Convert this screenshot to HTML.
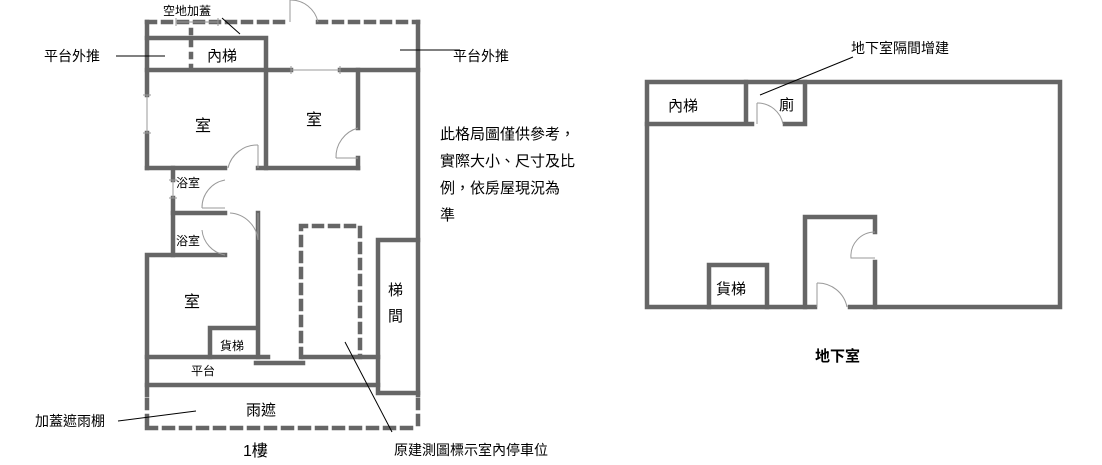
<!DOCTYPE html>
<html><head><meta charset="utf-8"><style>
body{margin:0;background:#fff}
svg text{font-family:"Liberation Sans","Noto Sans CJK TC",sans-serif;fill:#000}
</style></head><body>
<svg width="1102" height="460" viewBox="0 0 1102 460" xmlns="http://www.w3.org/2000/svg">
<g stroke="#666" stroke-width="4.5" fill="none" stroke-linecap="square">
<path d="M147 22H290 M318 22H418" stroke-dasharray="8,8"/>
<path d="M418 22V395"/>
<path d="M418 400V428" stroke-dasharray="8,8"/>
<path d="M147 428H418" stroke-dasharray="9,8"/>
<path d="M147 400V428" stroke-dasharray="8,8"/>
<path d="M147 22V95 M147 133V168"/>
<path d="M147 38H266V168"/>
<path d="M147 70H291 M340 70H418"/>
<path d="M191 30V68" stroke-dasharray="3,9"/>
<path d="M358 70V128 M358 158V168"/>
<path d="M147 168H225 M258 168H358"/>
<path d="M173 168V180 M173 198V255"/>
<path d="M173 213H225"/>
<path d="M258 213V357"/>
<path d="M147 255V395 M147 255H225"/>
<path d="M210 357V328H257"/>
<path d="M147 357H268 M256 363H303 M303 357H378"/>
<path d="M301 357V226H360V357" stroke-dasharray="8,8"/>
<path d="M378 393V240H418 M378 393H418"/>
<path d="M147 385H378"/>
<path d="M647 82V307H815 M850 307H1060V82H647"/>
<path d="M647 124H752 M785 124H805V82 M746 82V124"/>
<path d="M805 307V217H875V232 M875 262V307"/>
<path d="M709 307V265H767V307"/>
</g>
<g stroke="#999" stroke-width="1" fill="none">
<path d="M290 22V0 M290 0A28 28 0 0 1 318 22"/>
<path d="M176 22H218 M176 18V26 M218 18V26"/>
<path d="M291 70H340 M291 66V74 M340 66V74"/>
<path d="M147 95V133 M143 95H151 M143 133H151"/>
<path d="M258 168V145 M228 168A30 30 0 0 1 258 145"/>
<path d="M358 128A30 30 0 0 0 336 158 M336 158H358"/>
<path d="M173 180V198 M169 180H177 M169 198H177"/>
<path d="M225 180A28 28 0 0 0 202 208 M202 208H225"/>
<path d="M258 213V240 M230 213A30 30 0 0 1 258 240"/>
<path d="M225 255A28 28 0 0 1 202 230"/>
<path d="M757 124V103 M757 103A26 26 0 0 1 783 124"/>
<path d="M875 232A24 24 0 0 0 851 258H875"/>
<path d="M817 307V283 M817 283A30 30 0 0 1 847 307"/>
</g>
<g stroke="#000" stroke-width="1">
<path d="M116 56H165 M400 50H460 M222 18L240 34 M118 421L196 411 M345 342L392 432 M853 57L760 95"/>
</g>
<g font-size="14">
<text x="163" y="15" font-size="12">空地加蓋</text>
<text x="207" y="61" font-size="15">內梯</text>
<text x="44" y="61">平台外推</text>
<text x="453" y="61">平台外推</text>
<text x="195" y="131" font-size="16">室</text>
<text x="306" y="125" font-size="16">室</text>
<text x="176" y="187" font-size="12">浴室</text>
<text x="176" y="245" font-size="12">浴室</text>
<text x="184" y="307" font-size="16">室</text>
<text x="220" y="350" font-size="12">貨梯</text>
<text x="191" y="375" font-size="12">平台</text>
<text x="388" y="295" font-size="15">梯</text>
<text x="388" y="321" font-size="15">間</text>
<text x="246" y="415" font-size="15">雨遮</text>
<text x="35" y="426">加蓋遮雨棚</text>
<text x="243" y="456" font-size="16">1樓</text>
<text x="394" y="455">原建測圖標示室內停車位</text>
<g font-size="15">
<text x="440" y="139">此格局圖僅供參考，</text>
<text x="440" y="166">實際大小、尺寸及比</text>
<text x="440" y="193">例，依房屋現況為</text>
<text x="440" y="220">準</text>
</g>
<text x="851" y="53">地下室隔間增建</text>
<text x="668" y="111" font-size="15">內梯</text>
<text x="779" y="110" font-size="15">廁</text>
<text x="716" y="294" font-size="15">貨梯</text>
<text x="815" y="361" font-size="15" font-weight="bold">地下室</text>
</g>
</svg>
</body></html>
